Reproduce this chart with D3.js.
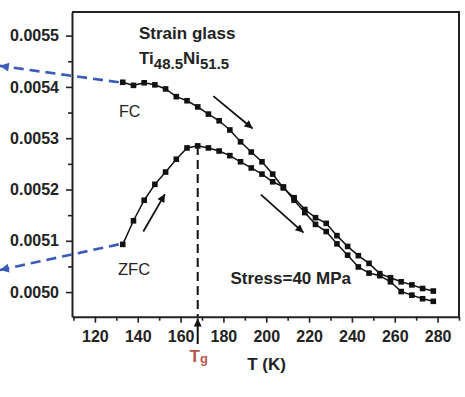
<!DOCTYPE html>
<html><head><meta charset="utf-8">
<script src="https://cdn.jsdelivr.net/npm/d3@7/dist/d3.min.js"></script>
<style>body{margin:0;background:#fff}svg{display:block}text{font-family:"Liberation Sans",Arial,sans-serif}</style>
</head><body><svg id="c" width="465" height="397"></svg>
<script>
const temps = [133,138,143,148,153,158,163,168,173,178,183,188,193,198,203,208,213,218,223,228,233,238,243,248,253,258,263,268,273,278];
const fc = [0.005409,0.005403,0.005408,0.005404,0.005396,0.005381,0.005373,0.005361,0.005347,0.005334,0.005316,0.005293,0.005273,0.005254,0.005230,0.005203,0.005184,0.005161,0.005145,0.005134,0.005110,0.005089,0.005071,0.005056,0.005036,0.005028,0.005020,0.005014,0.005007,0.005002];
const zfc = [0.005093,0.005139,0.005179,0.005210,0.005234,0.005259,0.005281,0.005285,0.005281,0.005275,0.005266,0.005254,0.005242,0.005230,0.005215,0.005205,0.005179,0.005155,0.005132,0.005118,0.005094,0.005072,0.005049,0.005037,0.005032,0.005020,0.005001,0.004994,0.004987,0.004982];
const xTicks = [120,140,160,180,200,220,240,260,280];
const xMinor = [110,130,150,170,190,210,230,250,270,290];
const yTicks = [0.0050,0.0051,0.0052,0.0053,0.0054,0.0055];
const yMinor = [0.00505,0.00515,0.00525,0.00535,0.00545];
const tg = 168;

const svg = d3.select("#c");
const x = d3.scaleLinear().domain([109.3,290]).range([72,459]);
const y = d3.scaleLinear().domain([0.004952,0.005546]).range([316.7,12]);

// defs
const defs = svg.append("defs");
function marker(id,color,w,h){
  defs.append("marker").attr("id",id).attr("viewBox","0 0 10 10").attr("refX",10).attr("refY",5)
    .attr("markerUnits","userSpaceOnUse").attr("markerWidth",w).attr("markerHeight",h).attr("orient","auto")
    .append("path").attr("d","M0,0L10,5L0,10Z").attr("fill",color);
}
marker("ab","#111",11,8);
marker("abl","#3a5cb8",11,9);

// axes
const gx = svg.append("g").attr("transform","translate(0,316.7)")
  .call(d3.axisBottom(x).tickValues(xTicks).tickSize(6).tickSizeOuter(0).tickFormat(d3.format("d")));
svg.append("g").attr("transform","translate(0,316.7)")
  .call(d3.axisBottom(x).tickValues(xMinor).tickSize(4).tickFormat("")).select(".domain").remove();
const gy = svg.append("g").attr("transform","translate(72,0)")
  .call(d3.axisLeft(y).tickValues(yTicks).tickSize(6).tickSizeOuter(0).tickFormat(d3.format(".4f")));
svg.append("g").attr("transform","translate(72,0)")
  .call(d3.axisLeft(y).tickValues(yMinor).tickSize(4).tickFormat("")).select(".domain").remove();
svg.selectAll(".tick line").attr("stroke","#222").attr("stroke-width",1.6);
svg.selectAll(".domain").attr("stroke","#222").attr("stroke-width",2);
gx.selectAll(".tick text").attr("font-size",16).attr("font-weight","bold").attr("fill","#222").attr("dy","1.0em");
gy.selectAll(".tick text").attr("font-size",16).attr("font-weight","bold").attr("fill","#222").attr("dx","-0.25em");
// frame top/right
svg.append("path").attr("d",`M72,12H459V316.7`).attr("fill","none").attr("stroke","#222").attr("stroke-width",2);

// blue dashed arrows
const blue = [[[temps[0],fc[0]],[75.6,0.005441]],[[temps[0],zfc[0]],[75.6,0.005043]]];
blue.forEach(p=>{
  svg.append("line").attr("x1",x(p[0][0])-4).attr("y1",y(p[0][1])).attr("x2",x(p[1][0])).attr("y2",y(p[1][1]))
    .attr("stroke","#3a5cb8").attr("stroke-width",2.6).attr("stroke-dasharray","10,6").attr("marker-end","url(#abl)");
});

// Tg dashed line
svg.append("line").attr("x1",x(tg)).attr("x2",x(tg)).attr("y1",y(zfc[7])).attr("y2",316.7)
  .attr("stroke","#111").attr("stroke-width",2).attr("stroke-dasharray","9,5");

// series
const line = d3.line().x((d,i)=>x(temps[i])).y(d=>y(d));
[fc,zfc].forEach(s=>{
  svg.append("path").datum(s).attr("d",line).attr("fill","none").attr("stroke","#111").attr("stroke-width",1.5);
  svg.selectAll(null).data(s).enter().append("rect")
    .attr("x",(d,i)=>x(temps[i])-2.8).attr("y",d=>y(d)-2.8).attr("width",5.6).attr("height",5.6).attr("fill","#111");
});

// black arrows
const arrows = [[[175.3,0.005382],[193.6,0.005319]],[[142.6,0.005118],[152.7,0.005191]],[[197.5,0.005190],[217.4,0.005116]]];
arrows.forEach(a=>{
  svg.append("line").attr("x1",x(a[0][0])).attr("y1",y(a[0][1])).attr("x2",x(a[1][0])).attr("y2",y(a[1][1]))
    .attr("stroke","#111").attr("stroke-width",1.8).attr("marker-end","url(#ab)");
});
// Tg arrow
svg.append("line").attr("x1",x(tg)).attr("x2",x(tg)).attr("y1",344).attr("y2",318.5)
  .attr("stroke","#111").attr("stroke-width",2).attr("marker-end","url(#ab)");

// texts
svg.append("text").attr("x",139).attr("y",38.5).attr("font-size",17).attr("font-weight","bold").attr("fill","#222").text("Strain glass");
const t2 = svg.append("text").attr("x",139).attr("y",63.5).attr("font-size",17).attr("font-weight","bold").attr("fill","#222");
t2.append("tspan").text("Ti");
t2.append("tspan").attr("font-size",15).attr("dy",5).text("48.5");
t2.append("tspan").attr("dy",-5).text("Ni");
t2.append("tspan").attr("font-size",15).attr("dy",5).text("51.5");
svg.append("text").attr("x",119).attr("y",116.5).attr("font-size",16).attr("fill","#222").text("FC");
svg.append("text").attr("x",118).attr("y",274.5).attr("font-size",16.5).attr("fill","#222").text("ZFC");
svg.append("text").attr("x",230.5).attr("y",283.5).attr("font-size",17).attr("font-weight","bold").attr("fill","#222").text("Stress=40 MPa");
svg.append("text").attr("x",266.5).attr("y",370).attr("text-anchor","middle").attr("font-size",17).attr("font-weight","bold").attr("fill","#222").text("T (K)");
const tgT = svg.append("text").attr("x",189.5).attr("y",361.5).attr("font-size",17).attr("font-weight","bold").attr("fill","#b5574a");
tgT.append("tspan").text("T");
tgT.append("tspan").attr("font-size",13).attr("dy",1).text("g");
</script></body></html>
